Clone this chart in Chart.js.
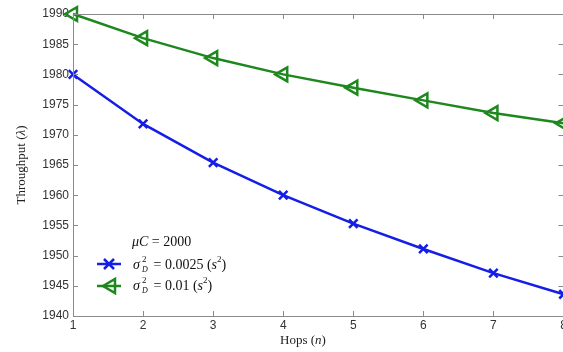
<!DOCTYPE html>
<html>
<head>
<meta charset="utf-8">
<script src="https://cdn.jsdelivr.net/npm/chart.js@4/dist/chart.umd.min.js"></script>
<style>
  html, body { margin: 0; padding: 0; background: #fff; }
  #wrap { width: 563px; height: 352px; position: relative; overflow: hidden; }
</style>
</head>
<body>
<div id="wrap"><canvas id="throughputChart" width="574" height="352"></canvas></div>
<script>
const hops = [1, 2, 3, 4, 5, 6, 7, 8];
const throughputLowVar = [1980, 1971.8, 1965.4, 1960, 1955.3, 1951.1, 1947.1, 1943.6];
const throughputHighVar = [1990, 1986, 1982.7, 1980, 1977.8, 1975.7, 1973.6, 1971.9];
const yTicks = [1940, 1945, 1950, 1955, 1960, 1965, 1970, 1975, 1980, 1985, 1990];

const blue = 'rgb(20, 30, 230)';
const green = 'rgb(30, 135, 30)';
const serif = '"Liberation Serif", "Times New Roman", serif';
const sans = 'Arial, "Liberation Sans", sans-serif';

// box round the plot plus matlab style inside ticks
const frame = {
  id: 'frame',
  afterDraw(chart) {
    const ctx = chart.ctx;
    const a = chart.chartArea;
    const xs = chart.scales.x, ys = chart.scales.y;
    ctx.save();
    ctx.strokeStyle = '#8a8a8a';
    ctx.lineWidth = 1;
    ctx.strokeRect(a.left + 0.5, a.top + 0.5, a.right - a.left, a.bottom - a.top);
    ctx.beginPath();
    hops.forEach(h => {
      const px = Math.round(xs.getPixelForValue(h)) + 0.5;
      ctx.moveTo(px, a.bottom); ctx.lineTo(px, a.bottom - 5);
      ctx.moveTo(px, a.top); ctx.lineTo(px, a.top + 5);
    });
    yTicks.forEach(v => {
      const py = Math.round(ys.getPixelForValue(v)) + 0.5;
      ctx.moveTo(a.left, py); ctx.lineTo(a.left + 5, py);
      ctx.moveTo(a.right, py); ctx.lineTo(a.right - 5, py);
    });
    ctx.stroke();

    // axis titles
    ctx.fillStyle = '#222';
    ctx.textBaseline = 'middle';
    ctx.font = '13px ' + serif;
    let x0 = 280;
    ctx.textAlign = 'left';
    ctx.fillText('Hops (', x0, 341);
    x0 += ctx.measureText('Hops (').width;
    ctx.font = 'italic 13px ' + serif;
    ctx.fillText('n', x0, 341);
    x0 += ctx.measureText('n').width;
    ctx.font = '13px ' + serif;
    ctx.fillText(')', x0, 341);

    ctx.save();
    ctx.translate(22, 165);
    ctx.rotate(-Math.PI / 2);
    const p1 = 'Throughput (', p3 = ')';
    ctx.font = 'italic 13px ' + serif;
    const wl = ctx.measureText('\u03bb').width;
    ctx.font = '13px ' + serif;
    const total = ctx.measureText(p1).width + wl + ctx.measureText(p3).width;
    let t = -total / 2;
    ctx.fillText(p1, t, 0); t += ctx.measureText(p1).width;
    ctx.font = 'italic 13px ' + serif;
    ctx.fillText('\u03bb', t, 0); t += wl;
    ctx.font = '13px ' + serif;
    ctx.fillText(p3, t, 0);
    ctx.restore();

    // legend
    const drawParts = (parts, x, y) => {
      parts.forEach(p => {
        ctx.font = (p.it ? 'italic ' : '') + p.size + 'px ' + serif;
        ctx.fillText(p.t, x, y + (p.dy || 0));
        x += ctx.measureText(p.t).width + (p.gap || 0);
      });
    };
    ctx.fillStyle = '#111';
    drawParts([{ t: '\u03bc', it: true, size: 14 }, { t: 'C', it: true, size: 14 }, { t: ' = 2000', size: 14 }], 132, 242);
    const sigma = (val, y) => {
      ctx.fillStyle = '#111';
      ctx.font = 'italic 14px ' + serif;
      ctx.fillText('\u03c3', 133, y);
      ctx.font = '9px ' + serif;
      ctx.fillText('2', 142, y - 5);
      ctx.font = 'italic 8px ' + serif;
      ctx.fillText('D', 142, y + 5);
      drawParts([{ t: ' = ' + val + ' (', size: 14 }, { t: 's', it: true, size: 14 }, { t: '2', size: 9, dy: -5 }, { t: ')', size: 14 }], 150, y);
    };
    sigma('0.0025', 265);
    sigma('0.01', 286);

    ctx.lineWidth = 2.5;
    ctx.strokeStyle = blue;
    ctx.beginPath(); ctx.moveTo(97, 264); ctx.lineTo(121, 264); ctx.stroke();
    ctx.beginPath();
    ctx.moveTo(104, 259); ctx.lineTo(114, 269);
    ctx.moveTo(114, 259); ctx.lineTo(104, 269);
    ctx.stroke();
    ctx.strokeStyle = green;
    ctx.beginPath(); ctx.moveTo(97, 286); ctx.lineTo(121, 286); ctx.stroke();
    ctx.beginPath();
    ctx.moveTo(103, 286); ctx.lineTo(115, 279); ctx.lineTo(115, 293); ctx.closePath();
    ctx.stroke();
    ctx.restore();
  }
};

new Chart(document.getElementById('throughputChart').getContext('2d'), {
  type: 'line',
  data: {
    labels: hops,
    datasets: [{
      label: 'sigma 0.0025',
      data: throughputLowVar,
      borderColor: blue,
      backgroundColor: 'transparent',
      borderWidth: 2.5,
      pointStyle: 'crossRot',
      pointRadius: 6,
      pointBorderWidth: 2.5,
      pointBorderColor: blue,
      tension: 0,
      clip: false
    }, {
      label: 'sigma 0.01',
      data: throughputHighVar,
      borderColor: green,
      backgroundColor: 'transparent',
      borderWidth: 2.5,
      pointStyle: 'triangle',
      rotation: -90,
      pointRadius: 8,
      pointBorderWidth: 2.5,
      pointBorderColor: green,
      pointBackgroundColor: 'rgba(0,0,0,0)',
      tension: 0,
      clip: false
    }]
  },
  options: {
    responsive: false,
    animation: false,
    layout: { padding: { top: 14, right: 0, left: 0, bottom: 0 } },
    plugins: { legend: { display: false }, tooltip: { enabled: false } },
    scales: {
      x: {
        type: 'linear',
        min: 1,
        max: 8,
        afterFit: s => { s.height = 36; },
        afterBuildTicks: s => { s.ticks = hops.map(v => ({ value: v })); },
        grid: { display: false, drawTicks: false },
        border: { display: false },
        ticks: { color: '#333', font: { family: sans, size: 12 }, padding: 2, maxRotation: 0, callback: v => String(v) }
      },
      y: {
        min: 1940,
        max: 1990,
        afterFit: s => { s.width = 73; },
        afterBuildTicks: s => { s.ticks = yTicks.map(v => ({ value: v })); },
        grid: { display: false, drawTicks: false },
        border: { display: false },
        ticks: { color: '#333', font: { family: sans, size: 12 }, padding: 4, callback: v => String(v) }
      }
    }
  },
  plugins: [frame]
});
</script>
</body>
</html>
